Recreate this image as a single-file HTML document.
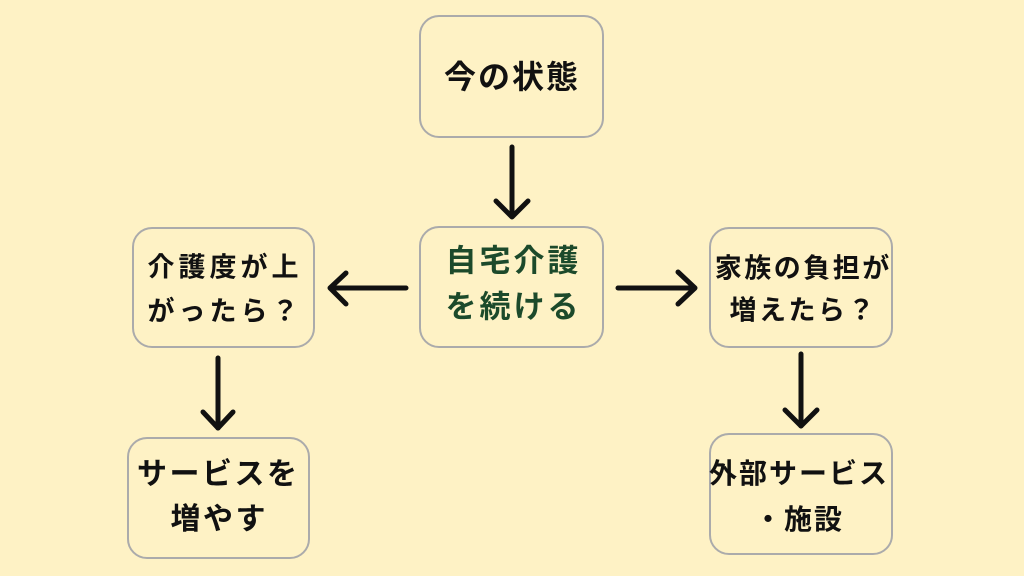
<!DOCTYPE html>
<html>
<head>
<meta charset="utf-8">
<style>
  html, body { margin:0; padding:0; }
  body { width:1024px; height:576px; background:#FEF2C5; position:relative; overflow:hidden;
         font-family:"Liberation Sans","Noto Sans CJK JP",sans-serif; }
  .box { position:absolute; border:2px solid #ABABAB; border-radius:20px; box-sizing:border-box; background:#FEF2C5; }
  .t { position:absolute; transform:translate(-50%,-50%); line-height:1; white-space:nowrap; font-weight:700; color:#111; }
  svg { position:absolute; left:0; top:0; }
</style>
</head>
<body>
  <div class="box" style="left:419px;top:15px;width:185px;height:123px;"></div>
  <div class="box" style="left:419px;top:226px;width:185px;height:122px;"></div>
  <div class="box" style="left:132px;top:227px;width:183px;height:121px;"></div>
  <div class="box" style="left:127px;top:437px;width:183px;height:122px;"></div>
  <div class="box" style="left:709px;top:227px;width:184px;height:121px;"></div>
  <div class="box" style="left:709px;top:433px;width:184px;height:122px;"></div>

  <svg width="1024" height="576" viewBox="0 0 1024 576">
    <g fill="none" stroke="#111" stroke-width="5" stroke-linecap="round" stroke-linejoin="round">
      <line x1="512" y1="147" x2="512" y2="216"/>
      <polyline points="496,201 512,217 528,201"/>
      <line x1="406" y1="288" x2="331" y2="288"/>
      <polyline points="346,273 330,288 346,304"/>
      <line x1="618" y1="288" x2="694" y2="288"/>
      <polyline points="678,272 695,288 678,304"/>
      <line x1="218" y1="358" x2="218" y2="428"/>
      <polyline points="203,412 218,428 233,412"/>
      <line x1="801" y1="354" x2="801" y2="426"/>
      <polyline points="785,410 801,426 817,410"/>
    </g>
  </svg>

  <div class="t" style="left:511px;top:77px;font-size:32px;letter-spacing:2px;padding-left:2px;">今の状態</div>

  <div class="t" style="left:512px;top:261px;font-size:31px;letter-spacing:3px;padding-left:3px;color:#1C4A2B;">自宅介護</div>
  <div class="t" style="left:512px;top:307px;font-size:31px;letter-spacing:3px;padding-left:3px;color:#1C4A2B;">を続ける</div>

  <div class="t" style="left:223px;top:268px;font-size:27px;letter-spacing:4px;padding-left:4px;">介護度が上</div>
  <div class="t" style="left:223px;top:312px;font-size:27px;letter-spacing:4px;padding-left:4px;">がったら？</div>

  <div class="t" style="left:217px;top:475px;font-size:30px;letter-spacing:2.5px;padding-left:2.5px;">サービスを</div>
  <div class="t" style="left:218px;top:520px;font-size:30px;letter-spacing:2.5px;padding-left:2.5px;">増やす</div>

  <div class="t" style="left:802px;top:269px;font-size:27px;letter-spacing:2.5px;padding-left:2.5px;">家族の負担が</div>
  <div class="t" style="left:802px;top:311px;font-size:27px;letter-spacing:2.5px;padding-left:2.5px;">増えたら？</div>

  <div class="t" style="left:798px;top:474px;font-size:28px;letter-spacing:2px;padding-left:2px;">外部サービス</div>
  <div class="t" style="left:798px;top:520px;font-size:28px;letter-spacing:2px;padding-left:2px;">・施設</div>
</body>
</html>
